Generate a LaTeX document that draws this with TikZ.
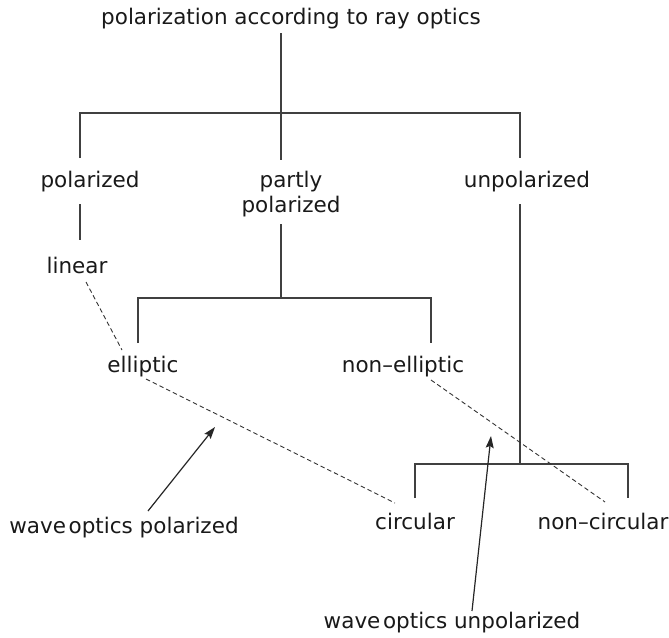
\documentclass[tikz,border=0pt]{standalone}
\usepackage{fontspec}
\setmainfont{DejaVu Sans}
\usetikzlibrary{arrows.meta}
\begin{document}
\begin{tikzpicture}[x=1pt,y=-1pt,
  every node/.style={font=\fontsize{21.5}{25}\selectfont, inner sep=0pt, text=black!90},
  tree/.style={line width=1.1pt, draw=black!75},
  dashlink/.style={line width=0.9pt, draw=black!80, dash pattern=on 4.5pt off 3pt},
  pointer/.style={line width=1.2pt, draw=black!85, -{Stealth[length=12pt,width=8pt,inset=2pt]}}]
\useasboundingbox (0,0) rectangle (669,637);
% nodes
\node (title) at (291,19) {polarization according to ray optics};
\node (pol) at (90,182) {polarized};
\node[align=center] (part) at (291,194) {partly\\polarized};
\node (unpol) at (527,182) {unpolarized};
\node (lin) at (77,265) {linear};
\node (ell) at (143,367) {elliptic};
\node (nell) at (403,367) {non\textendash elliptic};
\node (circ) at (415,521) {circular};
\node (ncirc) at (603,521) {non\textendash circular};
\node (wp) at (124,528) {wave\hspace{0.12em}optics polarized};
\node (wu) at (452,623) {wave\hspace{0.12em}optics unpolarized};
% tree coordinates
\coordinate (s0) at (281,33);
\coordinate (s1) at (281,160);
\coordinate (b1l) at (80,113);
\coordinate (b1r) at (520,113);
\coordinate (d1l) at (80,158);
\coordinate (d1r) at (520,158);
\coordinate (l0) at (80,204);
\coordinate (l1) at (80,240);
\coordinate (p0) at (281,224);
\coordinate (p1) at (281,298);
\coordinate (b2l) at (138,298);
\coordinate (b2r) at (431,298);
\coordinate (d2l) at (138,343);
\coordinate (d2r) at (431,343);
\coordinate (u0) at (520,204);
\coordinate (u1) at (520,464);
\coordinate (b3l) at (415,464);
\coordinate (b3r) at (628,464);
\coordinate (d3l) at (415,498);
\coordinate (d3r) at (628,498);
% tree lines
\draw[tree] (s0) -- (s1);
\draw[tree] (d1l) -- (b1l) -- (b1r) -- (d1r);
\draw[tree] (l0) -- (l1);
\draw[tree] (p0) -- (p1);
\draw[tree] (d2l) -- (b2l) -- (b2r) -- (d2r);
\draw[tree] (u0) -- (u1);
\draw[tree] (d3l) -- (b3l) -- (b3r) -- (d3r);
% dashed links
\coordinate (e0) at (86,282);
\coordinate (e1) at (122,350);
\coordinate (f0) at (146,379);
\coordinate (f1) at (395,503);
\coordinate (g0) at (431,380);
\coordinate (g1) at (605,502);
\draw[dashlink] (e0) -- (e1);
\draw[dashlink] (f0) -- (f1);
\draw[dashlink] (g0) -- (g1);
% pointers
\coordinate (wp0) at (148,511);
\coordinate (wp1) at (215,427);
\coordinate (wu0) at (472,611);
\coordinate (wu1) at (491,436);
\draw[pointer] (wp0) -- (wp1);
\draw[pointer] (wu0) -- (wu1);
\end{tikzpicture}
\end{document}
